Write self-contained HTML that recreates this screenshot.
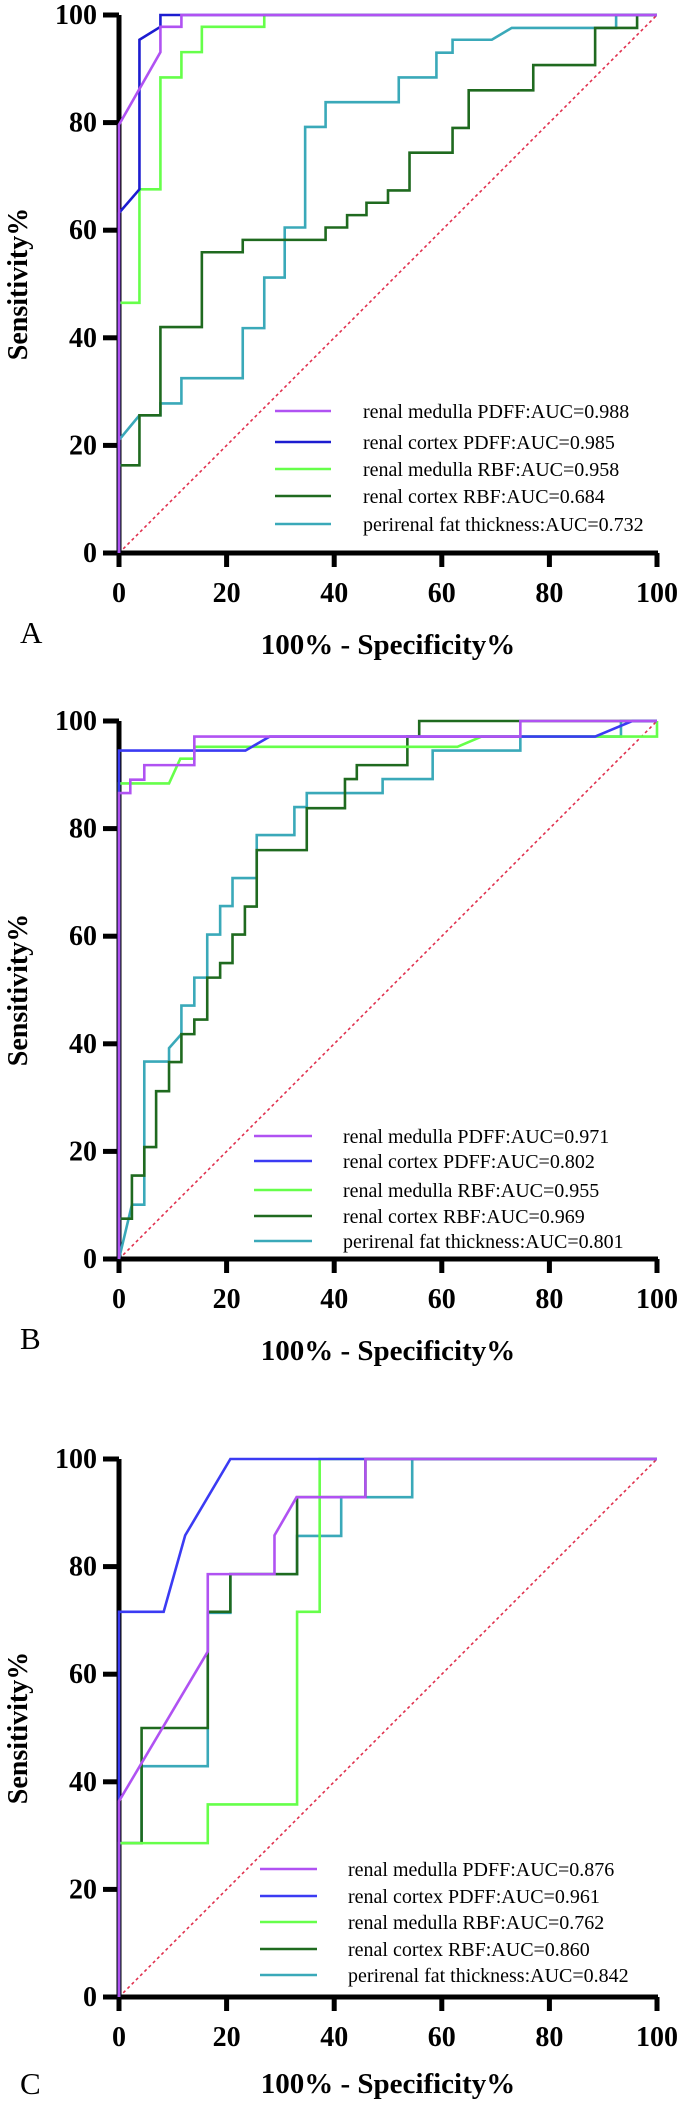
<!DOCTYPE html>
<html><head><meta charset="utf-8"><style>
html,body{margin:0;padding:0;background:#fff;}
svg{display:block;}
text{font-family:"Liberation Serif",serif;}
</style></head><body>
<svg id="fig" width="685" height="2114" viewBox="0 0 685 2114" xmlns="http://www.w3.org/2000/svg"></svg>
<script>
const xTicks = [0,20,40,60,80,100];
const yTicks = [0,20,40,60,80,100];
const seriesNames = ["renal medulla PDFF","renal cortex PDFF","renal medulla RBF","renal cortex RBF","perirenal fat thickness"];
const seriesColors = ["#b052f2","#1c1cd0","#66ff4a","#1f6a1f","#3aa9b9"];
const seriesColorsBC = ["#b052f2","#3b3bf3","#66ff4a","#1f6a1f","#3aa9b9"];
const aucA = ["0.988","0.985","0.958","0.684","0.732"];
const aucB = ["0.971","0.802","0.955","0.969","0.801"];
const aucC = ["0.876","0.961","0.762","0.860","0.842"];

const A_medPDFF = [[0,0],[0,79.6],[7.7,93.1],[7.7,97.8],[11.6,97.8],[11.6,100],[100,100]];
const A_corPDFF = [[0,0],[0,63.2],[3.8,67.6],[3.8,95.4],[7.7,97.8],[7.7,100],[100,100]];
const A_medRBF = [[0,0],[0,46.5],[3.8,46.5],[3.8,67.6],[7.7,67.6],[7.7,88.4],[11.6,88.4],[11.6,93.1],[15.4,93.1],[15.4,97.8],[27,97.8],[27,100],[100,100]];
const A_corRBF = [[0,0],[0,16.3],[3.8,16.3],[3.8,25.6],[7.7,25.6],[7.7,42],[15.4,42],[15.4,55.9],[23,55.9],[23,58.2],[38.4,58.2],[38.4,60.5],[42.4,60.5],[42.4,62.8],[46,62.8],[46,65.1],[50,65.1],[50,67.4],[54,67.4],[54,74.4],[62,74.4],[62,79],[65,79],[65,86],[77,86],[77,90.7],[88.5,90.7],[88.5,97.6],[96.3,97.6],[96.3,100],[100,100]];
const A_fat = [[0,0],[0,21],[3.8,25.6],[7.7,25.6],[7.7,27.8],[11.6,27.8],[11.6,32.5],[23,32.5],[23,41.8],[27,41.8],[27,51.2],[30.8,51.2],[30.8,60.5],[34.6,60.5],[34.6,79.2],[38.4,79.2],[38.4,83.8],[52,83.8],[52,88.4],[59,88.4],[59,93],[62,93],[62,95.4],[69.3,95.4],[73,97.6],[92.4,97.6],[92.4,100],[100,100]];

const B_medPDFF = [[0,0],[0,86.6],[2.1,86.6],[2.1,89.1],[4.7,89.1],[4.7,91.8],[14,91.8],[14,97.1],[74.6,97.1],[74.6,100],[100,100]];
const B_corPDFF = [[0,0],[0,94.5],[23.5,94.5],[28,97.1],[88.5,97.1],[95.4,100],[100,100]];
const B_medRBF = [[0,0],[0,88.4],[9.3,88.4],[11.4,93],[14,93],[14,95.2],[62.9,95.2],[67.4,97.1],[100,97.1],[100,100]];
const B_corRBF = [[0,0],[0,7.5],[2.4,7.5],[2.4,15.5],[4.7,15.5],[4.7,20.8],[6.9,20.8],[6.9,31.2],[9.3,31.2],[9.3,36.6],[11.6,36.6],[11.6,41.8],[14,41.8],[14,44.5],[16.4,44.5],[16.4,52.3],[18.8,52.3],[18.8,55],[21.1,55],[21.1,60.3],[23.4,60.3],[23.4,65.5],[25.6,65.5],[25.6,76],[34.9,76],[34.9,83.8],[42,83.8],[42,89.2],[44.2,89.2],[44.2,91.8],[53.6,91.8],[53.6,97.1],[55.8,97.1],[55.8,100],[100,100]];
const B_fat = [[0,0],[2.4,10.1],[4.7,10.1],[4.7,36.7],[9.3,36.7],[9.3,39.2],[11.6,41.8],[11.6,47.1],[14,47.1],[14,52.3],[16.4,52.3],[16.4,60.3],[18.8,60.3],[18.8,65.6],[21.1,65.6],[21.1,70.8],[25.6,70.8],[25.6,78.8],[32.6,78.8],[32.6,84],[34.9,84],[34.9,86.6],[49,86.6],[49,89.2],[58.3,89.2],[58.3,94.5],[74.6,94.5],[74.6,97.1],[93.3,97.1],[93.3,100],[100,100]];

const C_medPDFF = [[0,0],[0,36.4],[16.5,64.2],[16.5,78.6],[28.9,78.6],[28.9,85.8],[33,92.9],[45.8,92.9],[45.8,100],[100,100]];
const C_corPDFF = [[0,0],[0,71.6],[8.3,71.6],[12.3,85.8],[20.7,100],[100,100]];
const C_medRBF = [[0,0],[0,28.6],[16.5,28.6],[16.5,35.8],[33.1,35.8],[33.1,71.6],[37.3,71.6],[37.3,100],[100,100]];
const C_corRBF = [[0,0],[0,28.6],[4.2,28.6],[4.2,50],[16.5,50],[16.5,71.6],[20.7,71.6],[20.7,78.6],[33.1,78.6],[33.1,92.9],[45.8,92.9],[45.8,100],[100,100]];
const C_fat = [[0,0],[0,28.6],[4.2,28.6],[4.2,42.9],[16.5,42.9],[16.5,71.4],[20.7,71.4],[20.7,78.6],[33.1,78.6],[33.1,85.7],[41.3,85.7],[41.3,92.9],[54.5,92.9],[54.5,100],[100,100]];

const NS = "http://www.w3.org/2000/svg";
const svg = document.getElementById('fig');
function mk(tag, attrs, parent){const e=document.createElementNS(NS,tag);for(const k in attrs)e.setAttribute(k,attrs[k]);(parent||svg).appendChild(e);return e;}

const X0=119, X1=657, H=538;
function panel(cfg){
  const y0=cfg.y0, y1=y0-H;
  const sx=v=>X0+(v/100)*(X1-X0);
  const sy=v=>y0-(v/100)*H;
  const g=mk('g',{});
  
  
  const d=mk('line',{x1:sx(0),y1:sy(0),x2:sx(100),y2:sy(100),stroke:'#e0304e','stroke-width':1.6,'stroke-dasharray':'3,3'},g);
  
  
  const ax=mk('path',{d:`M${X0} ${y1} V${y0} H${X1+1}`,stroke:'#000','stroke-width':5,fill:'none'},g);
  
  
  yTicks.forEach(t=>{
    const tk=mk('line',{x1:103,x2:X0,y1:sy(t),y2:sy(t),stroke:'#000','stroke-width':5},g);
    
    
    const tl=mk('text',{x:97,y:sy(t)+9,'text-anchor':'end','font-size':28,'font-weight':'bold'},g);
    tl.textContent=t;
    
    
  });
  xTicks.forEach(t=>{
    const tk=mk('line',{x1:sx(t),x2:sx(t),y1:y0,y2:y0+14,stroke:'#000','stroke-width':5},g);
    
    
    const tl=mk('text',{x:sx(t),y:y0+49,'text-anchor':'middle','font-size':28,'font-weight':'bold'},g);
    tl.textContent=t;
    
    
  });
  const order=[4,3,2,1,0];
  order.forEach(i=>{
    const pts=cfg.series[i].map(p=>sx(p[0])+','+sy(p[1])).join(' ');
    const pl=mk('polyline',{points:pts,fill:'none',stroke:cfg.colors[i],'stroke-width':2.6,'stroke-linejoin':'miter'},g);
    
    
  });
  cfg.legendRows.forEach((r,i)=>{
    const ly=y0+r;
    const ll=mk('line',{x1:cfg.legX1,x2:cfg.legX2,y1:ly,y2:ly,stroke:cfg.colors[i],'stroke-width':2.6},g);
    
    
    const lt=mk('text',{x:cfg.legText,y:ly+7,'font-size':20},g);
    lt.textContent=seriesNames[i]+':AUC='+cfg.auc[i];
    
    
  });
  const yt=mk('text',{x:0,y:0,'font-size':28,'font-weight':'bold','text-anchor':'middle',transform:`translate(27,${(y0+y1)/2}) rotate(-90)`},g);
  yt.textContent='Sensitivity%';
  
  
  const xt=mk('text',{x:(X0+X1)/2,y:y0+cfg.titleOff,'font-size':29,'font-weight':'bold','text-anchor':'middle'},g);
  xt.textContent='100% - Specificity%';
  
  
  const pl=mk('text',{x:20,y:y0+cfg.labelOff,'font-size':31},g);
  pl.textContent=cfg.label;
  
  
}

panel({name:'panel-a',label:'A',y0:553,titleOff:101,labelOff:90,series:[A_medPDFF,A_corPDFF,A_medRBF,A_corRBF,A_fat],colors:seriesColors,auc:aucA,legendRows:[-142,-111,-84,-57,-29],legX1:275,legX2:331,legText:363});
panel({name:'panel-b',label:'B',y0:1259,titleOff:101,labelOff:90,series:[B_medPDFF,B_corPDFF,B_medRBF,B_corRBF,B_fat],colors:seriesColorsBC,auc:aucB,legendRows:[-123,-98,-69,-43,-18],legX1:254,legX2:312,legText:343});
panel({name:'panel-c',label:'C',y0:1997,titleOff:96,labelOff:97,series:[C_medPDFF,C_corPDFF,C_medRBF,C_corRBF,C_fat],colors:seriesColorsBC,auc:aucC,legendRows:[-128,-101,-75,-48,-22],legX1:260,legX2:317,legText:348});
</script>
</body></html>
